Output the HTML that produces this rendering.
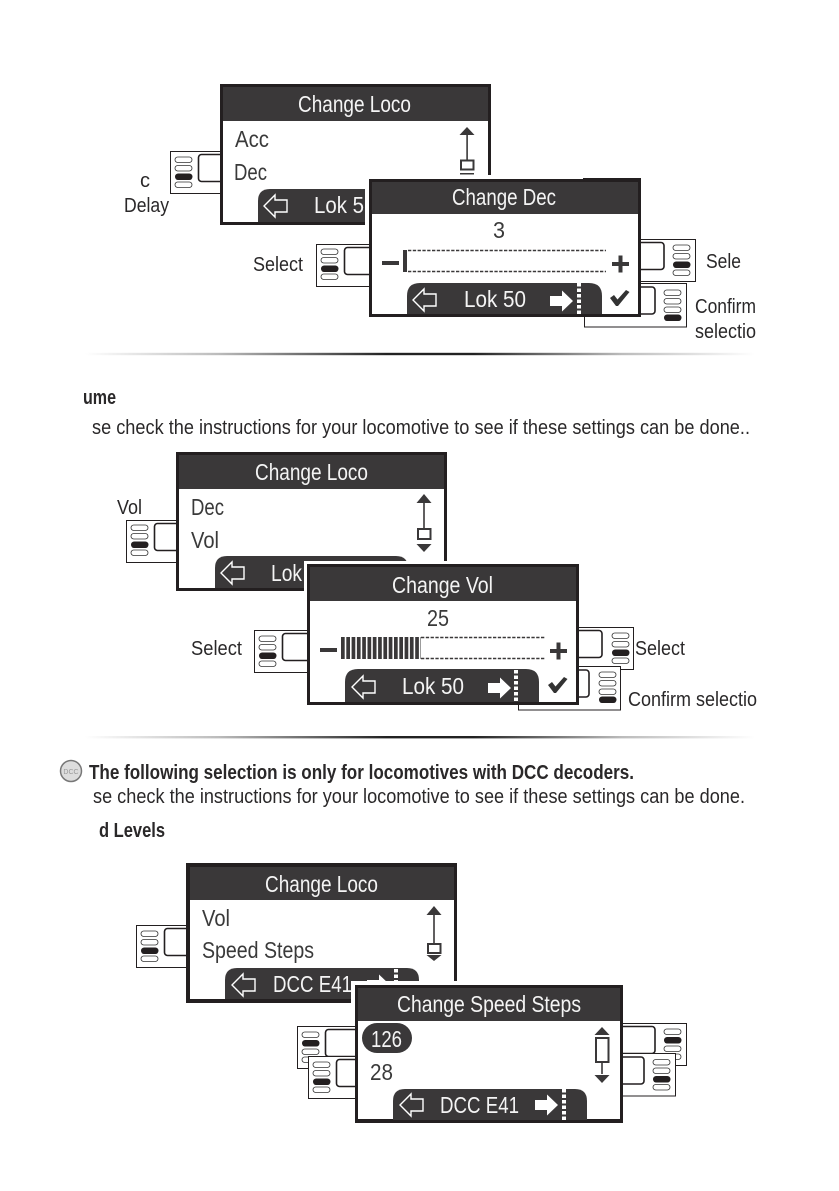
<!DOCTYPE html>
<html><head><meta charset="utf-8"><style>
html,body{margin:0;padding:0;background:#fff}
svg{display:block}
text{font-family:"Liberation Sans",sans-serif}
.h{fill:#f4f4f4;font-size:23px}
.b{fill:#3a3a3a;font-size:23px}
.w{fill:#f4f4f4;font-size:23px}
.l{fill:#2a2829;font-size:20px}
.t{fill:#2a2829;font-size:20px;font-weight:bold}
</style></head><body>
<svg width="839" height="1191" viewBox="0 0 839 1191" xmlns="http://www.w3.org/2000/svg">
<defs>
<linearGradient id="g" x1="0" x2="1" y1="0" y2="0"><stop offset="0" stop-color="#fff"/><stop offset=".2" stop-color="#bbb"/><stop offset=".45" stop-color="#222"/><stop offset=".58" stop-color="#222"/><stop offset=".8" stop-color="#bbb"/><stop offset="1" stop-color="#fff"/></linearGradient>
<rect id="p" width="17" height="5.5" rx="2.7" fill="#fff" stroke="#333" stroke-width=".8"/>
<rect id="f" width="17.5" height="6.5" rx="3.2" fill="#231f20"/>
<g id="k1"><use href="#f" y="-.5"/><use href="#p" y="8.5"/><use href="#p" y="17"/><use href="#p" y="25"/></g>
<g id="k2"><use href="#p"/><use href="#f" y="8"/><use href="#p" y="17"/><use href="#p" y="25"/></g>
<g id="k3"><use href="#p"/><use href="#p" y="8.5"/><use href="#f" y="16.5"/><use href="#p" y="25"/></g>
<g id="k4"><use href="#p"/><use href="#p" y="8.5"/><use href="#p" y="17"/><use href="#f" y="24.5"/></g>
<g id="kl"><rect x=".5" y=".5" width="70" height="42" fill="#fff" stroke="#231f20"/><rect x="28.5" y="3.5" width="40" height="27" rx="3" fill="#fff" stroke="#231f20" stroke-width="1.6"/></g>
<g id="kr"><rect x="-70.5" y=".5" width="70" height="42" fill="#fff" stroke="#231f20"/><rect x="-72" y="3.5" width="40" height="27" rx="3" fill="#fff" stroke="#231f20" stroke-width="1.6"/></g>
<path id="ba" d="M0 0L11-11V-6H23V6H11V11Z" fill="none" stroke="#fff" stroke-width="1.4"/>
<path id="fa" d="M0-5H12V-10.5L23 0L12 10.5V5H0Z" fill="#fff"/>
<line id="dt" x1="0" x2="0" y1="0" y2="31" stroke="#fff" stroke-width="4" stroke-dasharray="3.5 2"/>
<path id="ck" d="M0 8L4 5L7.5 9.5L16 0L19.5 2L8 16H6Z" fill="#333"/>
<path id="pl" d="M0-2H6.500V-8.500H10.500V-2H17V2H10.500V8.500H6.500V2H0Z" fill="#3a3839"/>
<rect id="mn" width="17" height="4" y="-2" fill="#3a3839"/>
</defs>

<rect width="839" height="1191" fill="#fff"/>

<!-- Section 1 -->
<use href="#kl" x="170" y="151"/><use href="#k3" x="175" y="157"/>
<rect x="220" y="84" width="271" height="141" fill="#231f20"/>
<rect x="223" y="87" width="265" height="135" fill="#fff"/>
<rect x="223" y="87" width="265" height="34" fill="#3a3839"/>
<text class="h" x="298" y="112" textLength="113" lengthAdjust="spacingAndGlyphs">Change Loco</text>
<text class="b" x="235" y="147" textLength="34" lengthAdjust="spacingAndGlyphs">Acc</text>
<text class="b" x="234" y="180" textLength="33" lengthAdjust="spacingAndGlyphs">Dec</text>
<path d="M467 127L474.500 135H459.500Z" fill="#3a3839"/><rect x="466.300" y="135" width="1.600" height="25" fill="#3a3839"/>
<rect x="461" y="160.500" width="12.500" height="9" fill="#fff" stroke="#3a3839" stroke-width="2"/>
<rect x="460" y="173" width="14" height="1.500" fill="#3a3839"/>
<path d="M258 222V201Q258 189 270 189H365V222Z" fill="#3a3839"/>
<use href="#ba" x="264" y="206"/>
<text class="w" x="314" y="213" textLength="50" lengthAdjust="spacingAndGlyphs">Lok 5</text>
<rect x="365" y="175" width="280" height="146" fill="#fff"/>

<use href="#kl" x="316" y="244"/><use href="#k3" x="321" y="249"/>
<use href="#kr" x="696" y="239"/><use href="#k3" x="673" y="245"/>
<rect x="584.500" y="283.500" width="102" height="43.500" fill="#fff" stroke="#231f20"/>
<rect x="615" y="287" width="40" height="27" rx="3" fill="#fff" stroke="#231f20" stroke-width="1.600"/>
<use href="#k4" x="664" y="290"/>

<rect x="369" y="179" width="272" height="138" fill="#231f20"/>
<rect x="583" y="178" width="58" height="2" fill="#231f20"/>
<rect x="372" y="182" width="266" height="132" fill="#fff"/>
<rect x="372" y="182" width="266" height="32" fill="#3a3839"/>
<text class="h" x="452" y="205" textLength="104" lengthAdjust="spacingAndGlyphs">Change Dec</text>
<text class="b" x="493" y="238" textLength="12" lengthAdjust="spacingAndGlyphs">3</text>
<use href="#mn" x="382" y="263"/>
<rect x="403" y="250" width="4" height="22" fill="#3a3839"/>
<g stroke="#3a3839" stroke-width="1.500" stroke-dasharray="3.300 1.500"><line x1="408" x2="606" y1="250.500" y2="250.500"/><line x1="408" x2="606" y1="271.500" y2="271.500"/></g>
<use href="#pl" x="612" y="264"/>
<path d="M407 314V296Q407 283 420 283H589Q602 283 602 296V314Z" fill="#3a3839"/>
<use href="#ba" x="413" y="300"/>
<text class="w" x="464" y="307" textLength="62" lengthAdjust="spacingAndGlyphs">Lok 50</text>
<use href="#fa" x="550" y="301"/><use href="#dt" x="579" y="283"/>
<use href="#ck" x="610" y="290"/>

<text class="l" x="140" y="187">c</text>
<text class="l" x="124" y="212" textLength="45" lengthAdjust="spacingAndGlyphs">Delay</text>
<text class="l" x="253" y="271" textLength="50" lengthAdjust="spacingAndGlyphs">Select</text>
<text class="l" x="706" y="268" textLength="35" lengthAdjust="spacingAndGlyphs">Sele</text>
<text class="l" x="695" y="313" textLength="61" lengthAdjust="spacingAndGlyphs">Confirm</text>
<text class="l" x="695" y="338" textLength="61" lengthAdjust="spacingAndGlyphs">selectio</text>

<rect x="85" y="352.800" width="670" height="2.400" fill="url(#g)"/>

<!-- Section 2 -->
<text class="t" x="83" y="404" textLength="33" lengthAdjust="spacingAndGlyphs">ume</text>
<text class="l" x="92" y="434" textLength="658" lengthAdjust="spacingAndGlyphs">se check the instructions for your locomotive to see if these settings can be done..</text>

<use href="#kl" x="126" y="520"/><use href="#k3" x="131" y="525"/>
<rect x="176" y="452" width="271" height="139" fill="#231f20"/>
<rect x="179" y="455" width="265" height="133" fill="#fff"/>
<rect x="179" y="455" width="265" height="34" fill="#3a3839"/>
<text class="h" x="255" y="480" textLength="113" lengthAdjust="spacingAndGlyphs">Change Loco</text>
<text class="b" x="191" y="515" textLength="33" lengthAdjust="spacingAndGlyphs">Dec</text>
<text class="b" x="191" y="548" textLength="28" lengthAdjust="spacingAndGlyphs">Vol</text>
<path d="M424 494L431.500 503H416.500Z" fill="#3a3839"/><rect x="423.200" y="503" width="1.600" height="26" fill="#3a3839"/>
<rect x="418" y="529" width="12.500" height="10" fill="#fff" stroke="#3a3839" stroke-width="2"/>
<path d="M424 552L431.500 544H416.500Z" fill="#3a3839"/>
<path d="M215 588V568Q215 556 227 556H396Q408 556 408 568V588Z" fill="#3a3839"/>
<use href="#ba" x="221" y="573"/>
<text class="w" x="271" y="581" textLength="31" lengthAdjust="spacingAndGlyphs">Lok</text>
<rect x="304" y="561" width="279" height="147" fill="#fff"/>

<use href="#kl" x="254" y="630"/><use href="#k3" x="259" y="636"/>
<use href="#kr" x="634" y="627"/><use href="#k3" x="612" y="633"/>
<rect x="518.500" y="666.500" width="102" height="43.500" fill="#fff" stroke="#231f20"/>
<rect x="549" y="670" width="40" height="27" rx="3" fill="#fff" stroke="#231f20" stroke-width="1.600"/>
<use href="#k4" x="599" y="672"/>

<rect x="307" y="564" width="272" height="141" fill="#231f20"/>
<rect x="310" y="567" width="266" height="135" fill="#fff"/>
<rect x="310" y="567" width="266" height="34" fill="#3a3839"/>
<text class="h" x="392" y="593" textLength="101" lengthAdjust="spacingAndGlyphs">Change Vol</text>
<text class="b" x="427" y="626" textLength="22" lengthAdjust="spacingAndGlyphs">25</text>
<use href="#mn" x="320" y="650"/>
<line x1="341" x2="421" y1="648" y2="648" stroke="#3a3839" stroke-width="22" stroke-dasharray="3.700 1.600"/>
<g stroke="#3a3839" stroke-width="1.500" stroke-dasharray="3.300 1.500"><line x1="421" x2="545" y1="637.500" y2="637.500"/><line x1="421" x2="545" y1="658.500" y2="658.500"/></g>
<use href="#pl" x="550" y="651"/>
<path d="M345 702V682Q345 669 358 669H526Q539 669 539 682V702Z" fill="#3a3839"/>
<use href="#ba" x="352" y="687"/>
<text class="w" x="402" y="694" textLength="62" lengthAdjust="spacingAndGlyphs">Lok 50</text>
<use href="#fa" x="488" y="688"/><use href="#dt" x="516" y="670"/>
<use href="#ck" x="548" y="677"/>

<text class="l" x="117" y="514" textLength="25" lengthAdjust="spacingAndGlyphs">Vol</text>
<text class="l" x="191" y="655" textLength="51" lengthAdjust="spacingAndGlyphs">Select</text>
<text class="l" x="635" y="655" textLength="50" lengthAdjust="spacingAndGlyphs">Select</text>
<text class="l" x="628" y="706" textLength="129" lengthAdjust="spacingAndGlyphs">Confirm selectio</text>

<rect x="85" y="736" width="670" height="2.400" fill="url(#g)"/>

<!-- Section 3 -->
<circle cx="71" cy="771" r="10.500" fill="#ddd" stroke="#777" stroke-width="1.500"/>
<text x="71" y="774" font-size="7" fill="#999" text-anchor="middle">DCC</text>
<text class="t" x="89" y="779" textLength="545" lengthAdjust="spacingAndGlyphs">The following selection is only for locomotives with DCC decoders.</text>
<text class="l" x="93" y="803" textLength="652" lengthAdjust="spacingAndGlyphs">se check the instructions for your locomotive to see if these settings can be done.</text>
<text class="t" x="99" y="837" textLength="66" lengthAdjust="spacingAndGlyphs">d Levels</text>

<use href="#kl" x="136" y="925"/><use href="#k3" x="141" y="931"/>
<rect x="186" y="863" width="271" height="140" fill="#231f20"/>
<rect x="190" y="867" width="264" height="132" fill="#fff"/>
<rect x="190" y="867" width="264" height="33" fill="#3a3839"/>
<text class="h" x="265" y="892" textLength="113" lengthAdjust="spacingAndGlyphs">Change Loco</text>
<text class="b" x="202" y="926" textLength="28" lengthAdjust="spacingAndGlyphs">Vol</text>
<text class="b" x="202" y="958" textLength="112" lengthAdjust="spacingAndGlyphs">Speed Steps</text>
<path d="M434 906L441.500 915H426.500Z" fill="#3a3839"/><rect x="433.200" y="915" width="1.600" height="28" fill="#3a3839"/>
<rect x="428" y="944" width="12.500" height="9" fill="#fff" stroke="#3a3839" stroke-width="2"/>
<path d="M434 961L441.500 955H426.500Z" fill="#3a3839"/>
<path d="M225 999V980Q225 968 237 968H407Q419 968 419 980V999Z" fill="#3a3839"/>
<use href="#ba" x="232" y="985"/>
<text class="w" x="273" y="992" textLength="79" lengthAdjust="spacingAndGlyphs">DCC E41</text>
<use href="#fa" x="367" y="985"/><use href="#dt" x="396" y="969"/>
<rect x="351" y="981" width="276" height="146" fill="#fff"/>

<use href="#kl" x="297" y="1026"/><use href="#k2" x="302" y="1032"/>
<use href="#kr" x="687" y="1023"/><use href="#k2" x="664" y="1029"/>
<use href="#kl" x="308" y="1056"/><use href="#k3" x="313" y="1062"/>
<rect x="605.500" y="1053.500" width="70" height="42.500" fill="#fff" stroke="#231f20"/>
<rect x="604" y="1057" width="40" height="27" rx="3" fill="#fff" stroke="#231f20" stroke-width="1.600"/>
<use href="#k3" x="653" y="1059.500"/>

<rect x="355" y="985" width="268" height="138" fill="#231f20"/>
<rect x="358" y="988" width="262" height="131" fill="#fff"/>
<rect x="358" y="988" width="262" height="33" fill="#3a3839"/>
<text class="h" x="397" y="1012" textLength="184" lengthAdjust="spacingAndGlyphs">Change Speed Steps</text>
<rect x="362" y="1023" width="50" height="30" rx="15" fill="#3a3839"/>
<text class="w" x="371" y="1047" textLength="31" lengthAdjust="spacingAndGlyphs">126</text>
<text class="b" x="370" y="1080" textLength="23" lengthAdjust="spacingAndGlyphs">28</text>
<path d="M602 1027L609.500 1035H594.500Z" fill="#3a3839"/>
<rect x="596" y="1038" width="12.500" height="24" fill="#fff" stroke="#3a3839" stroke-width="2"/>
<rect x="601.200" y="1062" width="1.600" height="12" fill="#3a3839"/>
<path d="M602 1083L609.500 1075H594.500Z" fill="#3a3839"/>
<path d="M393 1120V1101Q393 1089 405 1089H575Q587 1089 587 1101V1120Z" fill="#3a3839"/>
<use href="#ba" x="400" y="1105"/>
<text class="w" x="440" y="1113" textLength="79" lengthAdjust="spacingAndGlyphs">DCC E41</text>
<use href="#fa" x="535" y="1105"/><use href="#dt" x="564" y="1089"/>
</svg>
</body></html>
